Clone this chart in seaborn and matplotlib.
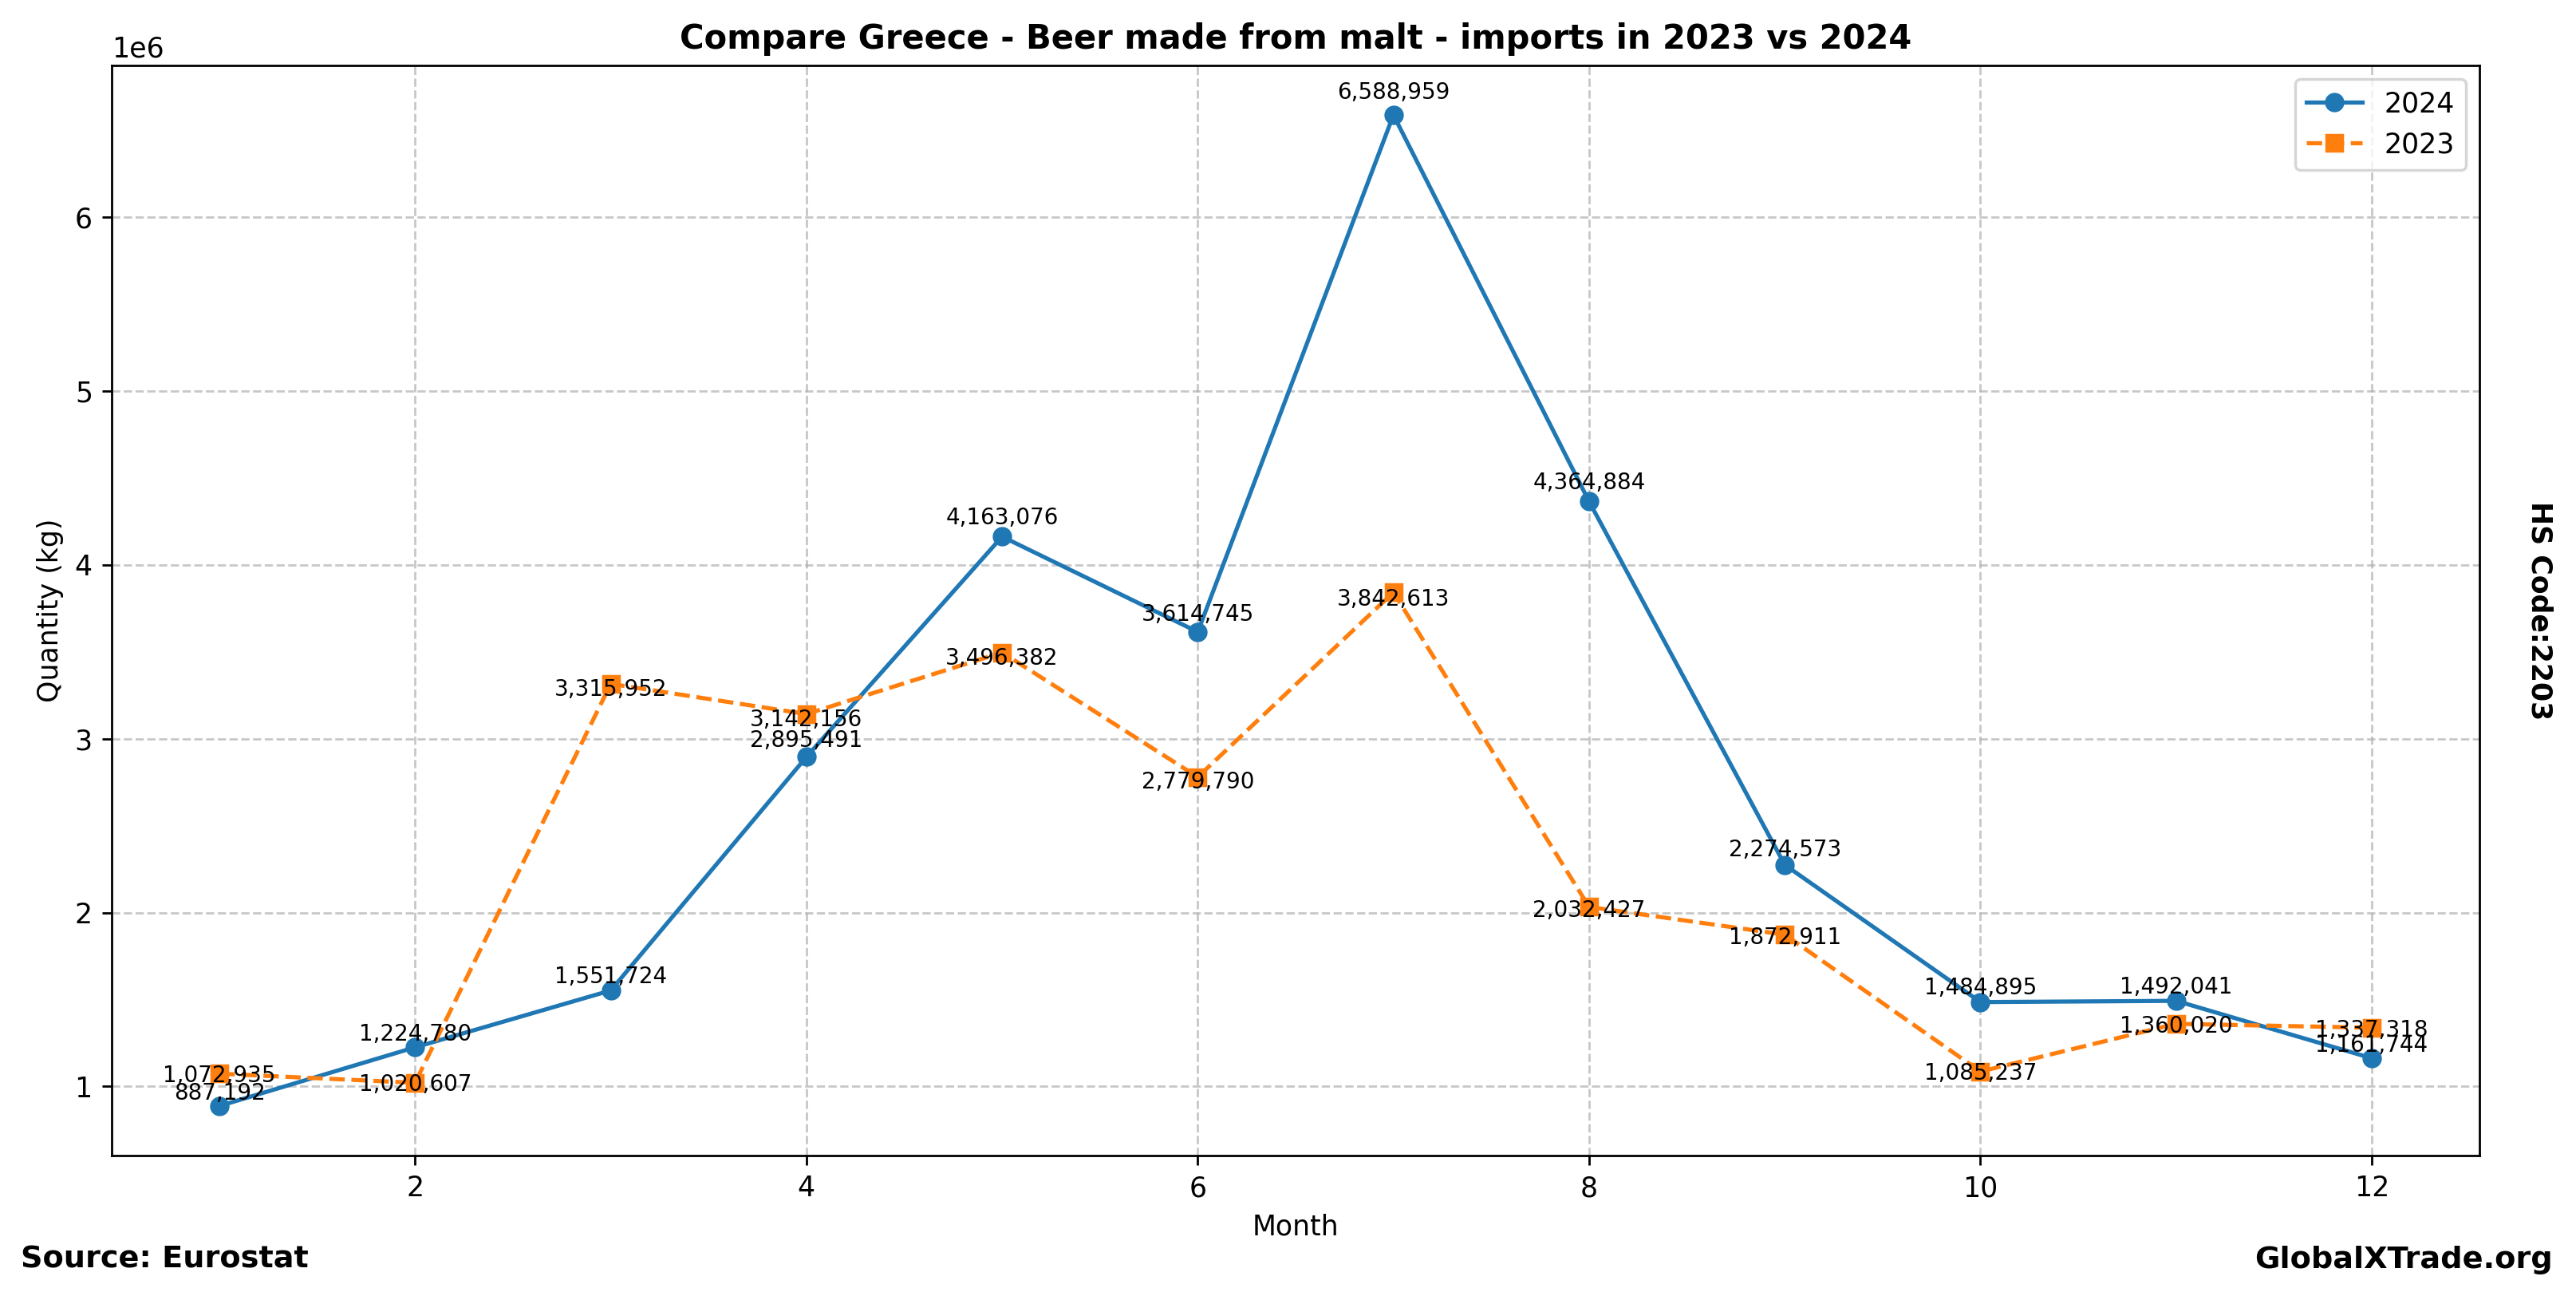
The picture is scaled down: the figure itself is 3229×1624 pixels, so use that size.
import matplotlib
matplotlib.use('Agg')
import matplotlib.pyplot as plt
import seaborn as sns
import pandas as pd

# Datos mensuales (kg)
months = [1, 2, 3, 4, 5, 6, 7, 8, 9, 10, 11, 12]
imports_2024 = [887192, 1224780, 1551724, 2895491, 4163076, 3614745,
                6588959, 4364884, 2274573, 1484895, 1492041, 1161744]
imports_2023 = [1072935, 1020607, 3315952, 3142156, 3496382, 2779790,
                3842613, 2032427, 1872911, 1085237, 1360020, 1337318]

df = pd.DataFrame({'month': months, '2024': imports_2024, '2023': imports_2023})

fig, ax = plt.subplots(figsize=(12.916, 6.496), dpi=250)

sns.lineplot(data=df, x='month', y='2024', marker='o', markersize=6,
             markeredgecolor='#1f77b4', markeredgewidth=1,
             color='#1f77b4', label='2024', ax=ax)
sns.lineplot(data=df, x='month', y='2023', marker='s', markersize=6,
             markeredgecolor='#ff7f0e', markeredgewidth=1,
             color='#ff7f0e', label='2023', ax=ax)
ax.lines[1].set_linestyle('--')

# Etiquetas de valores
for x, y in zip(df['month'], df['2024']):
    ax.text(x, y * 1.01, f'{y:,}', ha='center', va='bottom', fontsize=8)
for x, y in zip(df['month'], df['2023']):
    ax.text(x, y * 0.99, f'{y:,}', ha='center', va='center', fontsize=8)

ax.set_title('Compare Greece - Beer made from malt - imports in 2023 vs 2024',
             fontsize=12, fontweight='bold')
ax.set_xlabel('Month')
ax.set_ylabel('Quantity (kg)')
ax.grid(True, linestyle='--', alpha=0.7)
ax.legend(loc='upper right')
ax.get_legend().get_lines()[1].set_linestyle('--')

fig.subplots_adjust(left=0.0434, right=0.9625, top=0.9495, bottom=0.1084)

fig.text(0.008, 0.028, 'Source: Eurostat', fontsize=11, fontweight='bold',
         ha='left', va='center')
fig.text(0.991, 0.028, 'GlobalXTrade.org', fontsize=11, fontweight='bold',
         ha='right', va='center')
fig.text(0.986, 0.529, 'HS Code:2203', fontsize=10, fontweight='bold',
         rotation=270, ha='center', va='center')

fig.savefig('out.png', dpi=250)
